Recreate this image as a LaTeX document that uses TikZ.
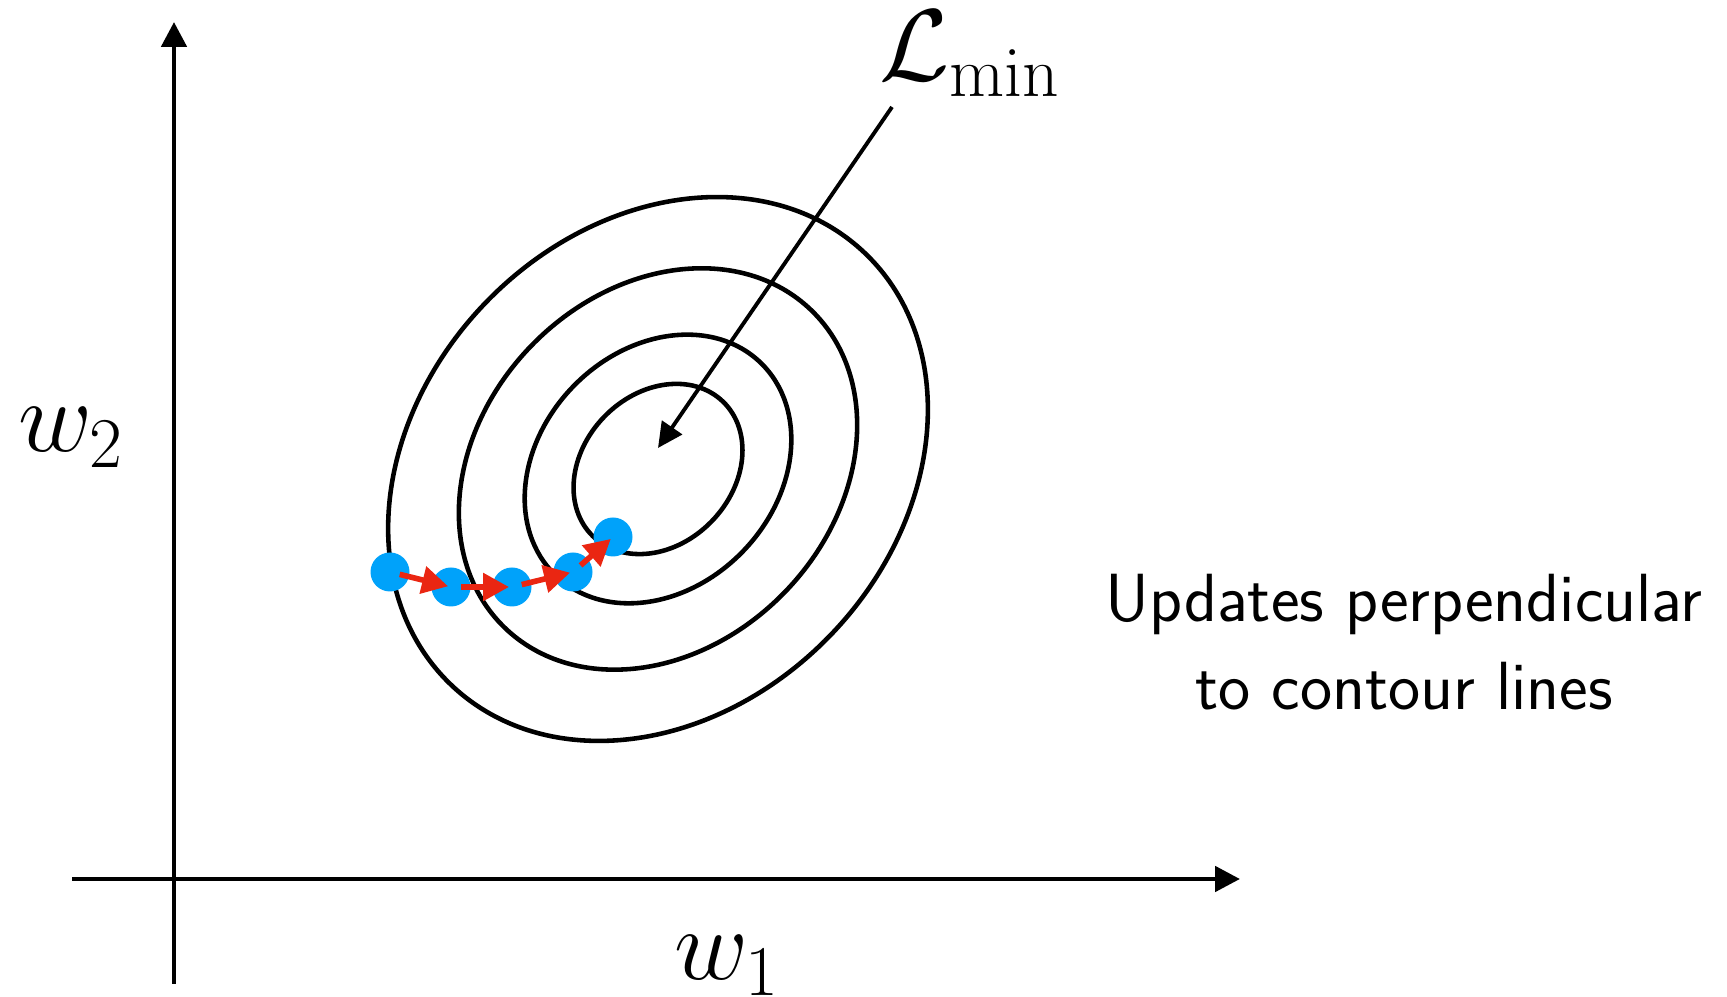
\RequirePackage{fix-cm}
\documentclass[tikz,border=0pt]{standalone}
\usepackage{tikz}
\usetikzlibrary{arrows.meta, positioning, calc}
\definecolor{stepred}{RGB}{234, 38, 18}
\definecolor{dotblue}{RGB}{0, 162, 250}

\begin{document}
\begin{tikzpicture}[
  axis/.style={line width=1.4pt, -{Triangle[length=0.25cm, width=0.25cm]}},
  contour/.style={line width=1.3pt},
  dot/.style={circle, fill=dotblue, inner sep=0pt, minimum size=0.39cm},
  updarr/.style={-{Triangle[length=0.26cm, width=0.27cm]}, line width=1.6pt, stepred,
                 shorten <=0.1cm, shorten >=0.03cm},
  minarr/.style={-{Triangle[length=0.25cm, width=0.24cm]}, line width=1.1pt},
  lbl/.style={font=\fontsize{29}{34}\selectfont, inner sep=0pt}
]
  \useasboundingbox (0,0) rectangle (17.27,9.97);

  % axes
  \coordinate (xa) at (0.72,1.18);
  \coordinate (xb) at (12.40,1.18);
  \coordinate (ya) at (1.74,0.13);
  \coordinate (yb) at (1.74,9.75);
  \draw[axis] (xa) -- (xb);
  \draw[axis] (ya) -- (yb);

  \node[lbl, anchor=base] (wone) at (7.27,0.17) {$w_1$};
  \node[lbl, anchor=base] (wtwo) at (0.71,5.45) {$w_2$};

  % contour lines
  \coordinate (c) at (6.58,5.28);
  \foreach \s in {1,0.738,0.494,0.313}
    \draw[contour, rotate around={46:(c)}] (c) ellipse ({2.99*\s} and {2.395*\s});

  % minimum
  \node[lbl, anchor=base] (lmin) at (9.70,9.16) {$\mathcal{L}_{\min}$};
  \coordinate (lminstart) at (8.92,8.90);
  \coordinate (lmintip) at (6.58,5.49);
  \draw[minarr] (lminstart) -- (lmintip);

  % descent steps
  \foreach \i/\x/\y in {1/3.90/4.25, 2/4.51/4.10, 3/5.12/4.10, 4/5.73/4.25, 5/6.13/4.60}
    \node[dot] (p\i) at (\x,\y) {};
  \foreach \a/\b in {1/2, 2/3, 3/4, 4/5}
    \draw[updarr] (p\a.center) -- (p\b.center);

  \node[align=center, font=\sffamily\fontsize{19.4}{25}\selectfont] (note) at (14.04,3.55)
    {Updates perpendicular\\to contour lines};
\end{tikzpicture}
\end{document}
